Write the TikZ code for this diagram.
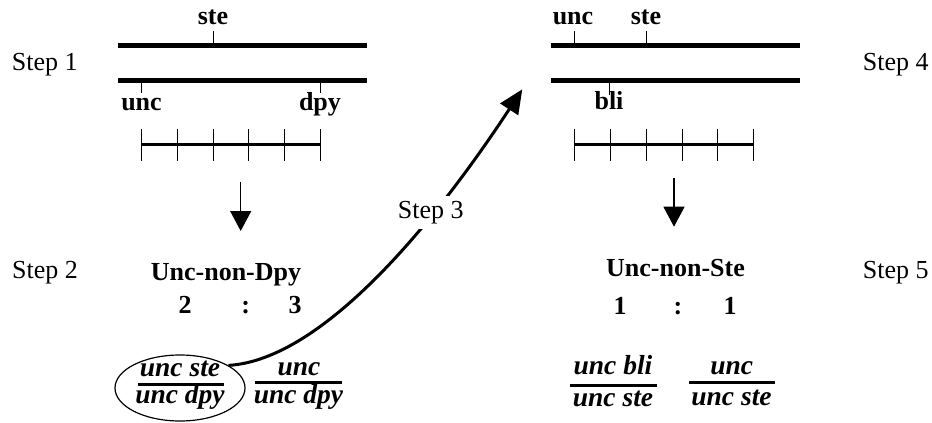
\documentclass[tikz,border=0pt]{standalone}
\usepackage{fontspec}
\setmainfont{Liberation Serif}
\usetikzlibrary{arrows.meta,shapes.geometric}
\begin{document}
\begin{tikzpicture}[x=1pt,y=-1pt,
  lbl/.style={font=\fontsize{26}{30}\selectfont, inner sep=0pt, anchor=base},
  blbl/.style={font=\fontsize{26}{30}\selectfont\bfseries, inner sep=0pt, anchor=base},
  frac/.style={font=\fontsize{27.5}{30}\selectfont\bfseries\itshape, inner sep=0pt, anchor=base},
  chrom/.style={line width=5pt},
  scalebar/.style={line width=3pt},
  tickmark/.style={line width=1pt},
  fbar/.style={line width=3pt},
  downarrow/.style={line width=1.2pt, -{Triangle[length=20pt,width=21pt]}},
  bigarrow/.style={line width=3pt, -{Triangle[length=24pt,width=21pt]}}]
\useasboundingbox (0,0) rectangle (932,423);

% step labels
\node[lbl, anchor=base west] (s1) at (11.7,70.7) {Step 1};
\node[lbl, anchor=base west] (s2) at (12,278) {Step 2};
\node[lbl, anchor=base west] (s4) at (862.7,70.7) {Step 4};
\node[lbl, anchor=base west] (s5) at (862.7,278) {Step 5};

% left chromosomes
\draw[chrom] (118,45) -- (367,45);
\draw[chrom] (118,80) -- (367,80);
\draw[tickmark] (213,31) -- (213,43);
\draw[tickmark] (141,82) -- (141,93);
\draw[tickmark] (320,82) -- (320,93);
\node[blbl] (lste) at (213,24.3) {ste};
\node[blbl] (lunc) at (141.5,110) {unc};
\node[blbl] (ldpy) at (320,110) {dpy};
% left scale
\draw[scalebar] (141.7,144.3) -- (320,144.3);
\foreach \x in {141.7,177,213,248.7,284.7,320}
  \draw[tickmark] (\x,129) -- (\x,161);

% right chromosomes
\draw[chrom] (551,45) -- (800,45);
\draw[chrom] (551,80) -- (800,80);
\draw[tickmark] (574,31) -- (574,43);
\draw[tickmark] (646,31) -- (646,43);
\draw[tickmark] (609,82) -- (609,95);
\node[blbl] (runc) at (573,24.3) {unc};
\node[blbl] (rste) at (646,24.3) {ste};
\node[blbl] (rbli) at (609,109.3) {bli};
% right scale
\draw[scalebar] (574,144.3) -- (753,144.3);
\foreach \x in {574,610,646,682,717,753}
  \draw[tickmark] (\x,129) -- (\x,161);

% down arrows
\coordinate (la0) at (240.7,181.7);
\coordinate (la1) at (240.7,231);
\coordinate (ra0) at (674,178);
\coordinate (ra1) at (674,226.7);
\draw[downarrow] (la0) -- (la1);
\draw[downarrow] (ra0) -- (ra1);

% phenotype labels
\node[blbl] (unondpy) at (226,280) {Unc-non-Dpy};
\node[blbl] (n2) at (185,313.3) {2};
\node[blbl] (c1) at (245.7,313.3) {:};
\node[blbl] (n3) at (295,313.3) {3};
\node[blbl] (unonste) at (675.5,276) {Unc-non-Ste};
\node[blbl] (n1a) at (620,314) {1};
\node[blbl] (c2) at (678,314) {:};
\node[blbl] (n1b) at (730,314) {1};

% left fractions
\node[draw, ellipse, line width=1.2pt, minimum width=130pt, minimum height=66pt, inner sep=0pt] (ell) at (180,388) {};
\node[frac] (f1n) at (180,376.7) {unc ste};
\draw[fbar] (138,384) -- (224,384);
\node[frac] (f1d) at (180,403) {unc dpy};
\node[frac] (f2n) at (299,375.7) {unc};
\draw[fbar] (255,382) -- (341.7,382);
\node[frac] (f2d) at (298.5,403) {unc dpy};

% right fractions
\node[frac] (f3n) at (613,374) {unc bli};
\draw[fbar] (570,385) -- (656.7,385);
\node[frac] (f3d) at (613,406) {unc ste};
\node[frac] (f4n) at (731.7,374) {unc};
\draw[fbar] (689,382.7) -- (775,382.7);
\node[frac] (f4d) at (731.5,405) {unc ste};

% step 3 curve
\coordinate (tip) at (522.3,89.3);
\draw[bigarrow] (ell.25) .. controls (320,360) and (430,230) .. (tip);
\node[lbl, fill=white, inner sep=5pt] (s3) at (430.8,218.3) {Step 3};
\end{tikzpicture}
\end{document}
